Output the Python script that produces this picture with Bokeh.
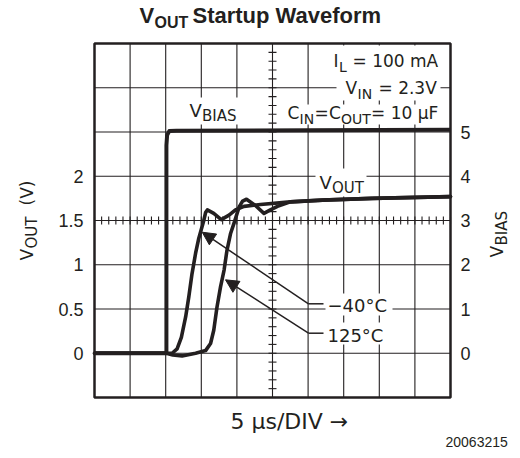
import numpy as np
from bokeh.plotting import figure
from bokeh.models import (Range1d, LinearAxis, FixedTicker, Label, Arrow, NormalHead,
                          BoxAnnotation)
from bokeh.embed import file_html
from bokeh.resources import INLINE

# ---------------- data (time in microseconds, volts) ----------------
vbias_t = [0, 10.1, 10.1, 10.2, 10.5, 11.5, 30, 50]
vbias_v = [0, 0, 4.70, 4.93, 5.02, 5.03, 5.04, 5.05]

cold_t = [0, 10.1, 10.9, 11.6, 12.2, 12.8, 13.25, 13.7, 14.2, 14.65, 15.35, 15.6, 15.85,
          16.75, 17.8, 18.9, 19.8, 21.0, 23.3, 27.5, 32, 39, 50]
cold_v = [0, 0, 0.0, 0.05, 0.18, 0.41, 0.64, 0.90, 1.13, 1.30, 1.50, 1.59, 1.62,
          1.58, 1.51, 1.56, 1.62, 1.66, 1.68, 1.71, 1.73, 1.75, 1.77]

hot_t = [0, 10.1, 11.0, 12.3, 14.2, 15.6, 16.3, 16.75, 17.2, 17.7, 18.2, 18.6, 19.1, 19.6,
         20.3, 20.8, 21.35, 22.6, 23.8, 24.7, 25.7, 27.5, 32, 39, 50]
hot_v = [0, 0, -0.02, -0.03, 0.0, 0.03, 0.11, 0.26, 0.52, 0.75, 0.94, 1.16, 1.35, 1.47,
         1.65, 1.72, 1.74, 1.67, 1.58, 1.62, 1.66, 1.71, 1.73, 1.75, 1.77]

vout_ticks = [0, 0.5, 1, 1.5, 2]
vbias_ticks = [0, 1, 2, 3, 4, 5]

# chart spans (axis limits)
T0, T1 = 0, 50          # 10 divisions of 5 us
V0, V1 = -0.5, 3.5      # VOUT axis
B0, B1 = -1, 7          # VBIAS axis

# ---------------- layout (pixels) ----------------
W, H = 512, 450
FL, FR, FT, FB = 94, 450, 43, 397   # chart box inside the canvas
INK = "#231f20"
SANS = "Liberation Sans"
ANN = "DejaVu Sans"
BASE_FIX = 0.3   # baseline correction (fraction of font size)

sx = (FR - FL) / (T1 - T0)
sy = (FB - FT) / (V1 - V0)
sb = (FB - FT) / (B1 - B0)


def d(x, y):
    """canvas pixel -> data coordinate (VOUT axis)"""
    return T0 + (x - FL) / sx, V0 + (FB - y) / sy


p = figure(width=W, height=H, output_backend="svg", toolbar_location=None,
           x_axis_type=None, y_axis_type=None, title_location=None, min_border=0,
           x_range=Range1d(T0 - FL / sx, T1 + (W - FR) / sx),
           y_range=Range1d(V0 - (H - FB) / sy, V1 + FT / sy))
p.extra_y_ranges = {"bias": Range1d(B0 - (H - FB) / sb, B1 + FT / sb)}
p.background_fill_color = "white"
p.border_fill_color = "white"
p.outline_line_color = None

# grid lines (inside the chart box only)
gx = np.arange(T0 + 5, T1, 5)
gy = np.arange(V0 + 0.5, V1, 0.5)
p.segment(x0=gx, y0=V0, x1=gx, y1=V1, line_color=INK, line_width=1.1, level="image")
p.segment(x0=T0, y0=gy, x1=T1, y1=gy, line_color=INK, line_width=1.1, level="image")
# minor ticks on the centre lines
hx = np.arange(T0, T1 + 0.01, 1.0)
p.segment(x0=hx, y0=1.5 - 4 / sy, x1=hx, y1=1.5 + 4 / sy, line_color=INK,
          line_width=1.1, level="image")
vy = np.arange(V0, V1 + 0.01, 0.1)
p.segment(x0=25 - 4 / sx, y0=vy, x1=25 + 4 / sx, y1=vy, line_color=INK,
          line_width=1.1, level="image")

# white boxes behind the in-chart texts
for (l, t, r, b) in ((336, 45, 440, 100), (284, 104, 443, 124), (187, 97, 238, 124),
                     (315, 168, 366, 196), (325, 293, 392, 315), (325, 322, 390, 344)):
    (x0, y0), (x1, y1) = d(l, b), d(r, t)
    p.add_layout(BoxAnnotation(left=x0, right=x1, bottom=y0, top=y1, fill_color="white",
                               fill_alpha=1.0, line_color=None, level="underlay"))

# chart box
p.quad(left=[T0], right=[T1], bottom=[V0], top=[V1], fill_color=None, line_color=INK,
       line_width=2.5)

# axes (fixed at the chart box edges)
lax = LinearAxis(fixed_location=T0, ticker=FixedTicker(ticks=vout_ticks))
rax = LinearAxis(fixed_location=T1, y_range_name="bias",
                 ticker=FixedTicker(ticks=vbias_ticks))
for ax, so in ((lax, 11), (rax, 10)):
    ax.axis_line_color = None
    ax.major_tick_line_color = None
    ax.minor_tick_line_color = None
    ax.major_tick_out = 0
    ax.major_tick_in = 0
    ax.major_label_standoff = so
    ax.major_label_text_font = SANS
    ax.major_label_text_font_size = "18px"
    ax.major_label_text_color = INK
p.add_layout(lax, "left")
p.add_layout(rax, "right")

# curves
p.line(vbias_t, vbias_v, y_range_name="bias", line_color=INK, line_width=4,
       line_join="round")
p.line(hot_t, hot_v, line_color=INK, line_width=3.6, line_join="round", line_cap="round")
p.line(cold_t, cold_v, line_color=INK, line_width=3.6, line_join="round", line_cap="round")

# arrows with leaders
for tip, tail in (((201.7, 231.7), (308, 303.3)), ((225, 279.3), (308, 332.7))):
    (tx, ty), (ax0, ay0) = d(*tip), d(*tail)
    ex, _ = d(323, tail[1])
    p.add_layout(Arrow(x_start=ax0, y_start=ay0, x_end=tx, y_end=ty,
                       line_color=INK, line_width=1.5,
                       end=NormalHead(size=13, fill_color=INK, line_color=INK, line_width=1)))
    p.segment(x0=[ax0], y0=[ay0], x1=[ex], y1=[ay0], line_color=INK, line_width=1.5)


def lab(x, y, text, size, font=ANN, bold=False, vertical=False):
    """text whose baseline-start sits at canvas pixel (x, y)"""
    if vertical:
        x -= BASE_FIX * size
    else:
        y -= BASE_FIX * size
    dx, dy = d(x, y)
    p.add_layout(Label(x=dx, y=dy, text=text, text_font=font, text_font_size=f"{size}px",
                       text_color=INK, text_align="left", text_baseline="alphabetic",
                       angle=np.pi / 2 if vertical else 0.0,
                       text_font_style="bold" if bold else "normal"))


# conditions block
lab(333, 66, "I", 17)
lab(338.5, 71, "L", 14)
lab(352, 66, "= 100 mA", 17)

lab(345, 93, "V", 17)
lab(357, 98, "IN", 14)
lab(378, 93, "= 2.3V", 17)

lab(287, 118, "C", 17)
lab(299, 123, "IN", 14)
lab(314, 118, "=", 17)
lab(328.5, 118, "C", 17)
lab(340.5, 123, "OUT", 14)
lab(370.5, 118, "= 10 µF", 17)

# curve names
lab(189, 115, "V", 18)
lab(201.5, 120, "BIAS", 15)
lab(319, 187, "V", 18)
lab(331.5, 192, "OUT", 15)

lab(327, 310, "−40°C", 18)
lab(327, 340, "125°C", 18)

# title (V_OUT Startup Waveform)
lab(139, 22, "V", 22, font=SANS, bold=True)
lab(154, 27, "OUT", 16, font=SANS, bold=True)
lab(192, 22, "Startup Waveform", 22, font=SANS, bold=True)

# left axis label V_OUT (V)
lab(32, 260, "V", 17, vertical=True)
lab(36, 248, "OUT", 15, vertical=True)
lab(32, 205, "(V)", 17, vertical=True)

# right axis label V_BIAS
lab(502, 257, "V", 17, vertical=True)
lab(506, 245, "BIAS", 15, vertical=True)

# x label and figure id
lab(230, 428, "5 µs/DIV →", 22)
lab(445, 446, "20063215", 14, font=SANS)

open("out.html", "w").write(file_html(p, INLINE))
